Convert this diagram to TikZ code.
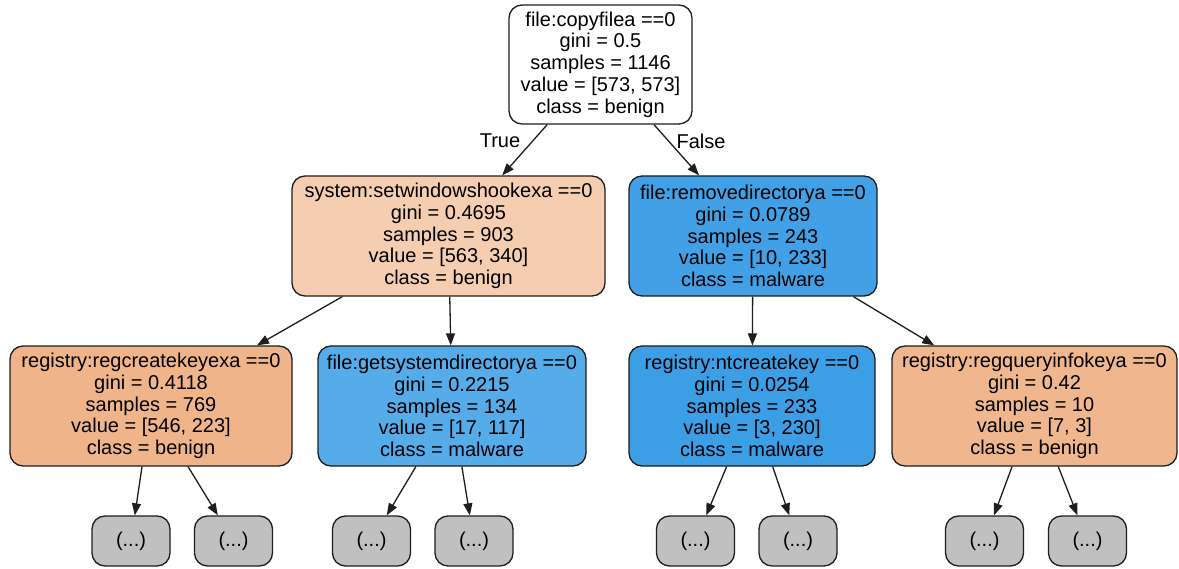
\documentclass[tikz,border=0pt]{standalone}
\usepackage{fontspec}
\setmainfont{Liberation Sans}
\usetikzlibrary{arrows.meta}
\definecolor{cL}{RGB}{245,205,177}
\definecolor{cR}{RGB}{66,161,230}
\definecolor{cA}{RGB}{240,180,138}
\definecolor{cB}{RGB}{86,171,233}
\definecolor{cC}{RGB}{60,158,229}
\definecolor{cD}{RGB}{240,183,142}
\definecolor{cG}{RGB}{192,192,192}
\definecolor{ln}{RGB}{30,30,30}
\tikzset{
  tnode/.style={draw=ln, line width=1.3pt, rounded corners=13pt, rectangle, align=center,
    inner sep=0pt, font=\fontsize{20pt}{21.8pt}\selectfont, text=black, minimum height=120pt},
  leaf/.style={draw=ln, line width=1.3pt, rounded corners=13pt, rectangle, fill=cG,
    inner sep=0pt, font=\fontsize{20pt}{21.8pt}\selectfont, minimum width=78pt, minimum height=50pt},
  edge/.style={draw=ln, line width=1.3pt, -{Triangle[length=12pt,width=9pt]}},
  elab/.style={font=\fontsize{20pt}{21.8pt}\selectfont, inner sep=0pt}
}
\begin{document}
\begin{tikzpicture}[x=1pt,y=-1pt]
\useasboundingbox[fill=white] (0,0) rectangle (1179,569);
\node[tnode, fill=white, minimum width=183pt, minimum height=119pt] (root) at (600.5,64.5)
  {file:copyfilea ==0\\gini = 0.5\\samples = 1146\\value = [573, 573]\\class = benign};
\node[tnode, fill=cL, minimum width=313pt] (L) at (448.5,236)
  {system:setwindowshookexa ==0\\gini = 0.4695\\samples = 903\\value = [563, 340]\\class = benign};
\node[tnode, fill=cR, minimum width=248pt] (R) at (753,236)
  {file:removedirectorya ==0\\gini = 0.0789\\samples = 243\\value = [10, 233]\\class = malware};
\node[tnode, fill=cA, minimum width=282pt] (A) at (151,406)
  {registry:regcreatekeyexa ==0\\gini = 0.4118\\samples = 769\\value = [546, 223]\\class = benign};
\node[tnode, fill=cB, minimum width=268pt] (B) at (452,406)
  {file:getsystemdirectorya ==0\\gini = 0.2215\\samples = 134\\value = [17, 117]\\class = malware};
\node[tnode, fill=cC, minimum width=246pt] (C) at (752,406)
  {registry:ntcreatekey ==0\\gini = 0.0254\\samples = 233\\value = [3, 230]\\class = malware};
\node[tnode, fill=cD, minimum width=285pt] (D) at (1034.5,406)
  {registry:regqueryinfokeya ==0\\gini = 0.42\\samples = 10\\value = [7, 3]\\class = benign};
\node[leaf] (A1) at (131,541) {(...)};
\node[leaf] (A2) at (233.5,541) {(...)};
\node[leaf] (B1) at (371.5,541) {(...)};
\node[leaf] (B2) at (474,541) {(...)};
\node[leaf] (C1) at (695.5,541) {(...)};
\node[leaf] (C2) at (798,541) {(...)};
\node[leaf] (D1) at (984.5,541) {(...)};
\node[leaf] (D2) at (1087.5,541) {(...)};
\draw[edge] (root) -- (L);
\draw[edge] (root) -- (R);
\draw[edge] (L) -- (A);
\draw[edge] (L) -- (B);
\draw[edge] (R) -- (C);
\draw[edge] (R) -- (D);
\draw[edge] (A) -- (A1);
\draw[edge] (A) -- (A2);
\draw[edge] (B) -- (B1);
\draw[edge] (B) -- (B2);
\draw[edge] (C) -- (C1);
\draw[edge] (C) -- (C2);
\draw[edge] (D) -- (D1);
\draw[edge] (D) -- (D2);
\node[elab] (t) at (500,141) {True};
\node[elab] (f) at (701,141) {False};
\end{tikzpicture}
\end{document}
